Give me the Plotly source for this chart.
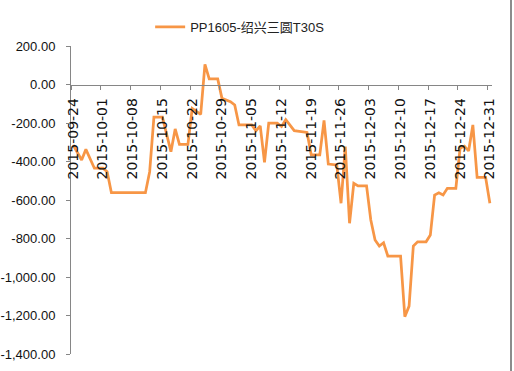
import plotly.graph_objects as go
import pandas as pd

dates = [
    "2015-09-24", "2015-09-26", "2015-09-27", "2015-09-29", "2015-10-01", "2015-10-02",
    "2015-10-03", "2015-10-11", "2015-10-12", "2015-10-13", "2015-10-15", "2015-10-16",
    "2015-10-17", "2015-10-18", "2015-10-19", "2015-10-21", "2015-10-22", "2015-10-24",
    "2015-10-25", "2015-10-26", "2015-10-28", "2015-10-29", "2015-10-31", "2015-11-01",
    "2015-11-02", "2015-11-05", "2015-11-06", "2015-11-07", "2015-11-08", "2015-11-09",
    "2015-11-11", "2015-11-12", "2015-11-13", "2015-11-15", "2015-11-18", "2015-11-19",
    "2015-11-21", "2015-11-22", "2015-11-23", "2015-11-25", "2015-11-26", "2015-11-27",
    "2015-11-28", "2015-11-29", "2015-11-30", "2015-12-02", "2015-12-03", "2015-12-04",
    "2015-12-05", "2015-12-06", "2015-12-07", "2015-12-10", "2015-12-11", "2015-12-12",
    "2015-12-13", "2015-12-14", "2015-12-16", "2015-12-17", "2015-12-18", "2015-12-19",
    "2015-12-20", "2015-12-21", "2015-12-23", "2015-12-24", "2015-12-25", "2015-12-26",
    "2015-12-27", "2015-12-28", "2015-12-30", "2015-12-31",
]
values = [
    -314, -392, -337, -435, -435, -453,
    -562, -562, -453, -170, -170, -254,
    -349, -231, -311, -311, -124, -155,
    105, 29, 29, -72, -89, -106,
    -210, -210, -240, -215, -405, -200,
    -200, -218, -183, -240, -249, -366,
    -366, -187, -413, -418, -617, -323,
    -721, -513, -527, -527, -704, -808,
    -839, -822, -891, -891, -1206, -1151,
    -839, -817, -817, -782, -574, -562,
    -574, -539, -539, -331, -320, -345,
    -210, -482, -482, -617,
]
series_name = "PP1605-绍兴三圆T30S"

x_tick_labels = [
    "2015-09-24", "2015-10-01", "2015-10-08", "2015-10-15", "2015-10-22",
    "2015-10-29", "2015-11-05", "2015-11-12", "2015-11-19", "2015-11-26",
    "2015-12-03", "2015-12-10", "2015-12-17", "2015-12-24", "2015-12-31",
]
y_tick_values = [200, 0, -200, -400, -600, -800, -1000, -1200, -1400]
y_tick_labels = ["200.00", "0.00", "-200.00", "-400.00", "-600.00", "-800.00",
                 "-1,000.00", "-1,200.00", "-1,400.00"]

# ticks sit on day boundaries (half a day before each labelled date)
x_tick_vals = [(pd.Timestamp(d) - pd.Timedelta(hours=12)).strftime("%Y-%m-%d %H:%M")
               for d in x_tick_labels]

fig = go.Figure()
fig.add_trace(go.Scatter(
    x=dates, y=values, mode="lines", name=series_name,
    line=dict(color="#F79646", width=2.75),
))

W, H = 514, 371
ML, MR, MT, MB = 71, 22, 46, 17
y_min, y_max = -1400, 200
fig.update_layout(
    width=W, height=H,
    margin=dict(l=ML, r=MR, t=MT, b=MB, autoexpand=False),
    paper_bgcolor="white", plot_bgcolor="white",
    showlegend=True,
    legend=dict(
        orientation="h", x=0.188, xanchor="left", y=1.062, yanchor="middle",
        font=dict(family="Liberation Sans, Arial, Noto Sans CJK SC", size=13, color="#222222"),
        bgcolor="rgba(0,0,0,0)",
    ),
    xaxis=dict(
        type="date", automargin=False,
        range=["2015-09-23 12:00", "2015-12-31 12:00"],
        tickmode="array", tickvals=x_tick_vals, ticktext=x_tick_labels,
        tickangle=-90,
        anchor="free", position=(0 - y_min) / (y_max - y_min),
        showline=True, linecolor="#868686", linewidth=1,
        ticks="outside", ticklen=4, tickcolor="#868686",
        showgrid=False, zeroline=False,
        ticklabelshift=2, ticklabelstandoff=3,
        tickfont=dict(family="DejaVu Sans", size=14, color="#111111"),
    ),
    yaxis=dict(
        range=[y_min, y_max], automargin=False,
        tickmode="array", tickvals=y_tick_values, ticktext=y_tick_labels,
        showline=True, linecolor="#868686", linewidth=1,
        ticks="outside", ticklen=4, tickcolor="#868686",
        showgrid=False, zeroline=False,
        ticklabelstandoff=8,
        tickfont=dict(family="Liberation Sans, Arial", size=13, color="#111111"),
    ),
    shapes=[dict(
        type="line", xref="paper", yref="paper",
        x0=(511 - ML) / (W - ML - MR), x1=(511 - ML) / (W - ML - MR),
        y0=-0.2, y1=1.3,
        line=dict(color="#8C8C8C", width=2),
    )],
)

fig.write_html(
    "out.html",
    config={"displayModeBar": False},
    post_script="document.body.style.margin='0px';document.body.style.overflow='hidden';",
)
